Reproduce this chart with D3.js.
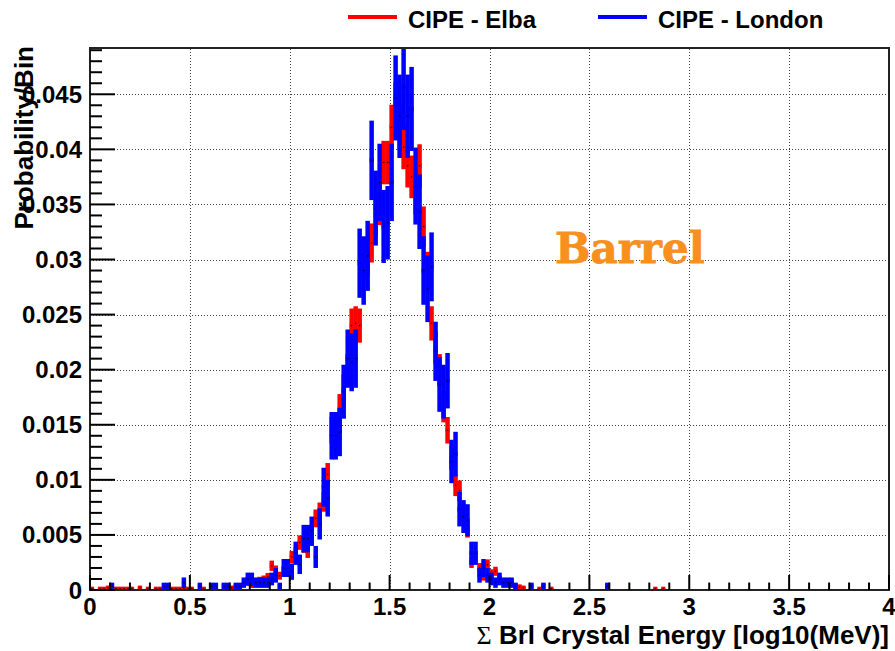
<!DOCTYPE html>
<html>
<head>
<meta charset="utf-8">
<style>
  body { margin: 0; background: #fff; }
  svg { display: block; font-family: 'Liberation Sans', Arial, sans-serif; font-weight: bold; }
</style>
</head>
<body>
<svg width="895" height="651"></svg>
<script src="https://d3js.org/d3.v7.min.js"></script>
<script>
// histograms: bins of 0.02 in log10(MeV), normalised to probability per bin
let binWidth = 0.02;
let elbaEntries = 10000;
let londonEntries = 3000;

let elbaBins = [0,2,3,4,6,7,8,9,10,12,14,16,17,20,21,22,23,24,25,28,31,35,36,37,
  39,40,41,42,43,44,45,46,47,48,49,50,51,52,53,54,55,56,57,58,59,60,61,62,63,64,65,66,67,68,
  69,70,71,72,73,74,75,76,77,78,79,80,81,82,83,84,85,86,87,88,89,90,91,92,93,94,95,96,97,98,
  99,100,101,102,103,104,105,106,107,108,112,115,141,143];
let elbaCounts = [1,1,1,2,1,1,1,1,1,2,1,1,1,1,1,1,1,1,1,1,1,2,2,3,
  6,4,8,9,10,12,22,18,13,17,22,30,33,43,40,35,50,65,71,80,105,145,140,165,182,200,240,242,240,300,
  303,315,340,350,388,388,420,440,420,402,385,375,360,385,330,290,242,220,200,165,145,120,95,90,70,55,25,30,20,12,
  23,15,17,10,8,6,8,4,3,2,1,1,1,1];

let londonBins = [5,18,19,23,27,30,31,33,34,36,37,
  38,39,40,41,42,43,44,45,46,47,48,49,50,51,52,53,54,55,56,57,58,59,60,61,62,63,64,65,66,67,
  68,69,70,71,72,73,74,75,76,77,78,79,80,81,82,83,84,85,86,87,88,89,90,91,92,93,94,95,96,97,
  98,99,100,101,102,103,104,105,106,110,113,129];
let londonCounts = [1,1,1,2,1,1,1,1,1,1,1,
  2,3,3,2,2,2,2,3,4,1,6,6,5,10,7,14,14,16,9,18,28,25,42,42,43,54,63,62,63,89,
  87,91,117,104,111,99,100,111,134,129,137,129,131,110,103,87,82,88,65,56,54,57,35,37,22,20,19,10,10,4,
  6,4,3,2,3,2,2,2,1,1,1,1];

let legendLabels = ["CIPE - Elba", "CIPE - London"];
let seriesColors = ["#ff0000", "#0000ff"];

let xTicks = [0, 0.5, 1, 1.5, 2, 2.5, 3, 3.5, 4];
let yTicks = [0, 0.005, 0.01, 0.015, 0.02, 0.025, 0.03, 0.035, 0.04, 0.045];

let svg = d3.select("svg");
let margin = { top: 48, right: 6, bottom: 61, left: 90 };
let width = 895 - margin.left - margin.right;
let height = 651 - margin.top - margin.bottom;

let x = d3.scaleLinear().domain([0, 4]).range([margin.left, margin.left + width]);
let y = d3.scaleLinear().domain([0, 0.0492]).range([margin.top + height, margin.top]);
let fmt = d3.format("~g");

svg.append("defs").append("clipPath").attr("id", "frame")
  .append("rect")
  .attr("x", x(0)).attr("y", y(0.0492))
  .attr("width", x(4) - x(0)).attr("height", y(0) - y(0.0492));

// grid
let grid = svg.append("g").attr("stroke", "#444").attr("stroke-width", 1).attr("stroke-dasharray", "1,2");
grid.selectAll(".gx").data(xTicks.slice(1, -1)).join("line")
  .attr("x1", d => Math.round(x(d)) + 0.5).attr("x2", d => Math.round(x(d)) + 0.5)
  .attr("y1", y(0)).attr("y2", y(0.0492));
grid.selectAll(".gy").data(yTicks.slice(1)).join("line")
  .attr("x1", x(0)).attr("x2", x(4))
  .attr("y1", d => Math.round(y(d)) + 0.5).attr("y2", d => Math.round(y(d)) + 0.5);

function makeSeries(bins, counts, entries) {
  return bins.map((b, i) => ({
    lo: b * binWidth,
    hi: (b + 1) * binWidth,
    p: counts[i] / entries,
    e: Math.sqrt(counts[i]) / entries
  }));
}

let series = [
  makeSeries(elbaBins, elbaCounts, elbaEntries),
  makeSeries(londonBins, londonCounts, londonEntries)
];

let plot = svg.append("g").attr("clip-path", "url(#frame)");
series.forEach((data, si) => {
  let g = plot.append("g").attr("stroke", seriesColors[si]).attr("stroke-width", 4.5);
  g.selectAll(".v").data(data).join("line")
    .attr("x1", d => x((d.lo + d.hi) / 2)).attr("x2", d => x((d.lo + d.hi) / 2))
    .attr("y1", d => y(d.p - d.e)).attr("y2", d => y(d.p + d.e));
  g.selectAll(".h").data(data).join("line")
    .attr("x1", d => x(d.lo)).attr("x2", d => x(d.hi))
    .attr("y1", d => y(d.p)).attr("y2", d => y(d.p));
  plot.append("g").selectAll("circle").data(data).join("circle")
    .attr("cx", d => x((d.lo + d.hi) / 2)).attr("cy", d => y(d.p))
    .attr("r", 0.8).attr("fill", "#000");
});

// frame
svg.append("rect")
  .attr("x", x(0)).attr("y", y(0.0492))
  .attr("width", x(4) - x(0)).attr("height", y(0) - y(0.0492))
  .attr("fill", "none").attr("stroke", "#222").attr("stroke-width", 2);

// ticks
let ticks = svg.append("g").attr("stroke", "#000").attr("stroke-width", 2);
let xMinor = d3.range(0, 41).map(i => i / 10);
ticks.selectAll(".tx").data(xMinor).join("line")
  .attr("x1", d => x(d)).attr("x2", d => x(d))
  .attr("y1", y(0)).attr("y2", (d, i) => y(0) - (i % 5 === 0 ? 15 : 7.5));
let yMinor = d3.range(0, 50).map(i => i / 1000);
ticks.selectAll(".ty").data(yMinor).join("line")
  .attr("y1", d => y(d)).attr("y2", d => y(d))
  .attr("x1", x(0)).attr("x2", (d, i) => x(0) + (i % 5 === 0 ? 25 : 12));

// tick labels
svg.append("g").selectAll("text").data(xTicks).join("text")
  .attr("x", d => x(d)).attr("y", 615)
  .attr("text-anchor", "middle").attr("font-size", 24)
  .text(d => fmt(d));
svg.append("g").selectAll("text").data(yTicks).join("text")
  .attr("x", 82).attr("y", d => y(d) + 8.5)
  .attr("text-anchor", "end").attr("font-size", 24)
  .text(d => fmt(d));

// axis titles
let xt = svg.append("text")
  .attr("x", x(4)).attr("y", 644)
  .attr("text-anchor", "end").attr("font-size", 26);
xt.append("tspan").attr("font-family", "'Liberation Serif', serif").attr("font-weight", "normal").text("\u03A3");
xt.append("tspan").text(" Brl Crystal Energy [log10(MeV)]");

svg.append("text")
  .attr("transform", "translate(33,46) rotate(-90)")
  .attr("text-anchor", "end").attr("font-size", 26)
  .text("Probability/Bin");

// legend
let legendX = [348, 598];
legendLabels.forEach((lab, i) => {
  svg.append("line")
    .attr("x1", legendX[i]).attr("x2", legendX[i] + 49)
    .attr("y1", 17).attr("y2", 17)
    .attr("stroke", seriesColors[i]).attr("stroke-width", 4);
  svg.append("text")
    .attr("x", legendX[i] + 60).attr("y", 28)
    .attr("font-size", 24)
    .text(lab);
});

svg.append("text")
  .attr("x", 555).attr("y", 263)
  .attr("font-family", "'DejaVu Serif', serif").attr("font-weight", "bold")
  .attr("font-size", 42).attr("fill", "#f7901e")
  .attr("stroke", "#f7901e").attr("stroke-width", 0.8)
  .text("Barrel");
</script>
</body>
</html>
